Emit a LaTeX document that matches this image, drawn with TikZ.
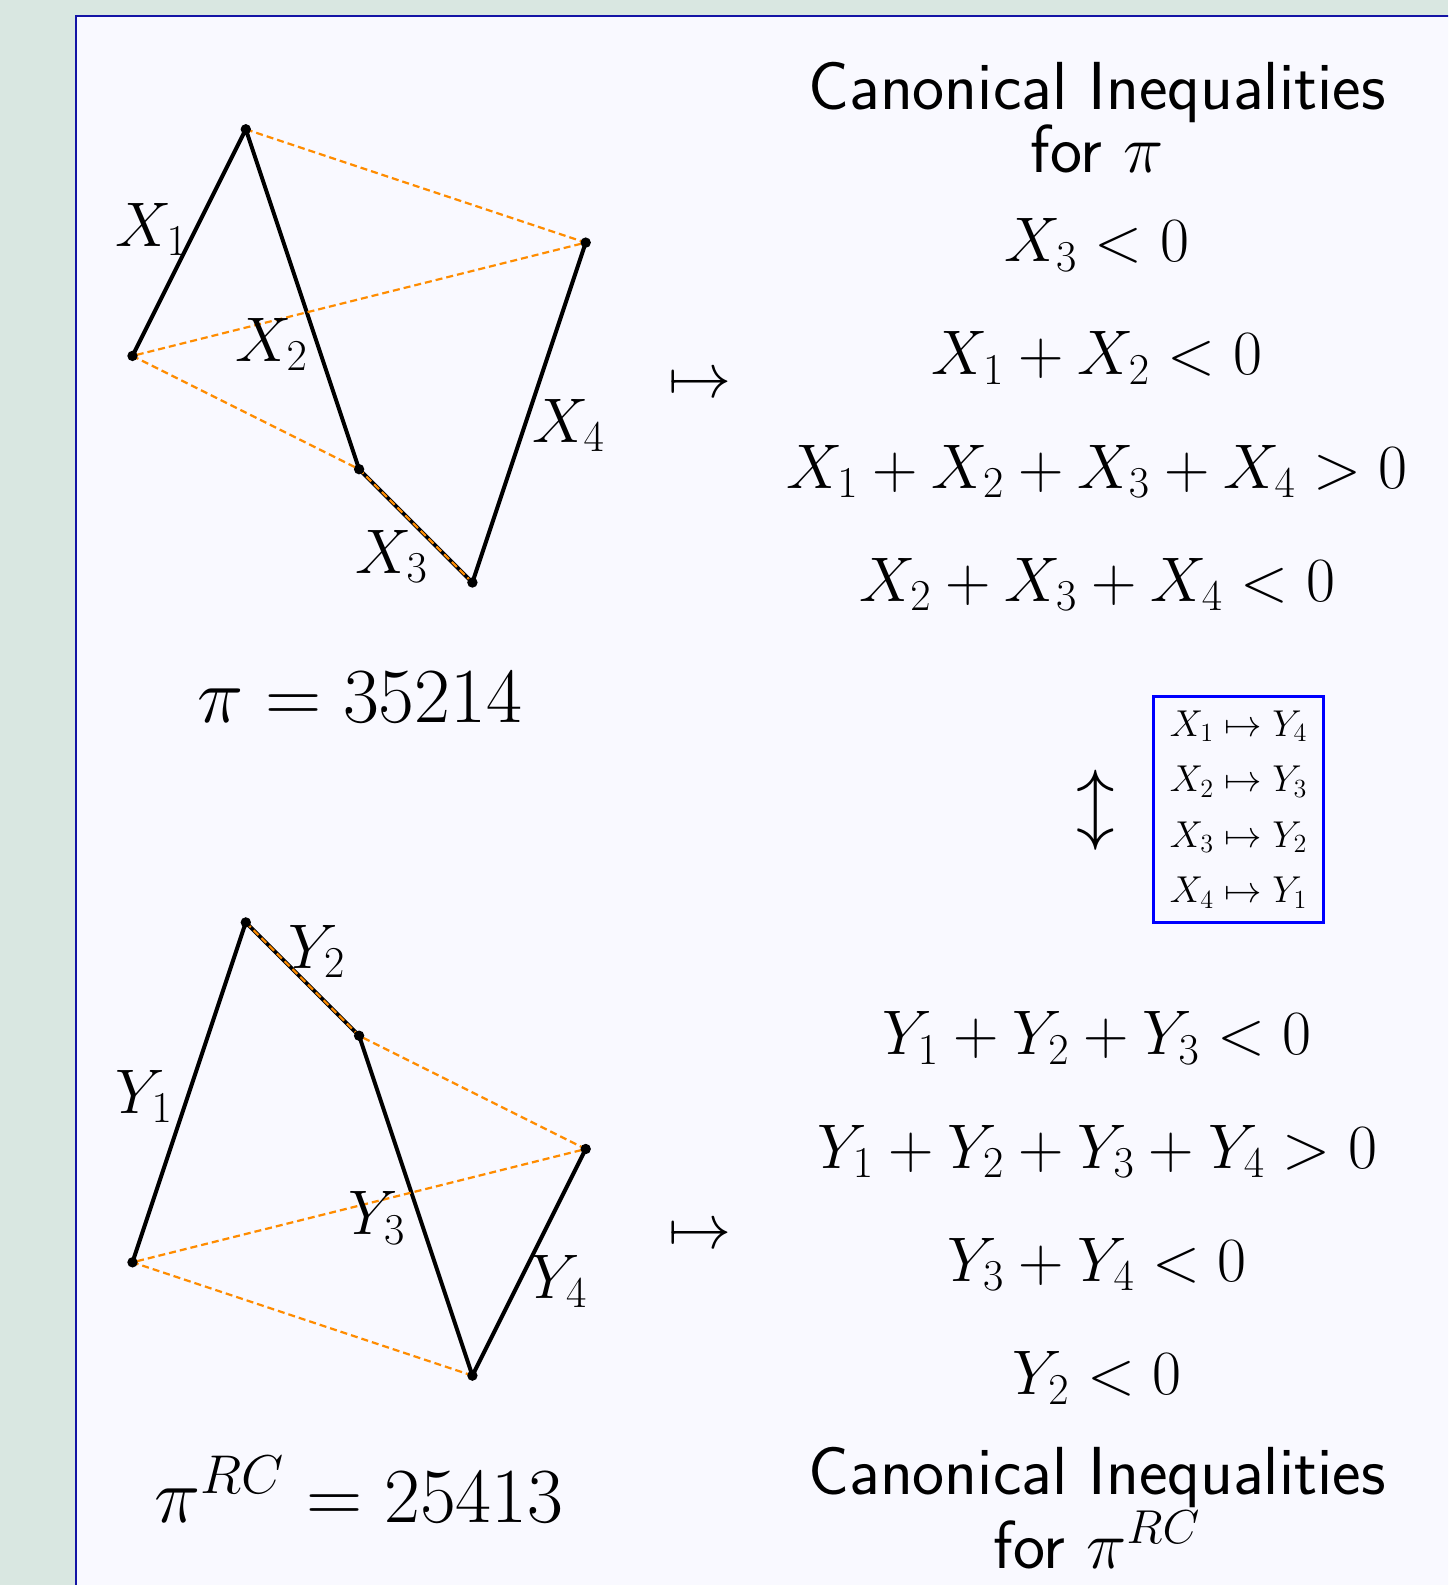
\RequirePackage{fix-cm}
\documentclass[tikz,border=0pt]{standalone}
\definecolor{outerbg}{RGB}{217,231,225}
\definecolor{innerbg}{RGB}{249,249,255}
\definecolor{framecol}{RGB}{20,20,165}
\definecolor{dashorange}{RGB}{255,140,0}
\begin{document}
\begin{tikzpicture}[x=0.5pt,y=-0.5pt,
  edge/.style={line width=2pt,black,line cap=round},
  dashedge/.style={line width=1.1pt,dashorange,dash pattern=on 3.5pt off 2pt},
  vdot/.style={fill=black},
  mlab/.style={inner sep=0pt,anchor=base west,font=\fontsize{31.5}{36}\selectfont},
  ineq/.style={inner sep=0pt,anchor=base,font=\fontsize{31.5}{36}\selectfont},
  canon/.style={inner sep=0pt,anchor=base,font=\sffamily\fontsize{34}{40}\selectfont},
  perm/.style={inner sep=0pt,anchor=base,font=\fontsize{39}{46}\selectfont},
  sym/.style={inner sep=0pt,font=\fontsize{31.5}{36}\selectfont}]
\useasboundingbox (0,0) rectangle (1448,1585);
\clip (0,0) rectangle (1448,1585);
\fill[outerbg] (0,0) rectangle (1448,1585);
\filldraw[fill=innerbg,draw=framecol,line width=1.15pt] (76.2,16.2) rectangle (1520,1660);

% top polygon
\coordinate (A) at (132.5,355.9);
\coordinate (B) at (245.8,129.3);
\coordinate (C) at (359.1,469.2);
\coordinate (D) at (472.4,582.5);
\coordinate (E) at (585.7,242.6);
% bottom polygon
\coordinate (A2) at (132.5,1262.3);
\coordinate (B2) at (245.8,922.4);
\coordinate (C2) at (359.1,1035.7);
\coordinate (D2) at (472.4,1375.6);
\coordinate (E2) at (585.7,1149.0);

\draw[edge] (A) -- (B) -- (C) -- (D) -- (E);
\draw[edge] (A2) -- (B2) -- (C2) -- (D2) -- (E2);
\draw[dashedge] (B) -- (E) -- (A) -- (C) -- (D);
\draw[dashedge] (B2) -- (C2) -- (E2) -- (A2) -- (D2);
\foreach \p in {A,B,C,D,E,A2,B2,C2,D2,E2} \fill[vdot] (\p) circle (2.6pt);

% edge labels
\node[mlab] (lX1) at (115,246.5) {$X_1$};
\node[mlab] (lX2) at (235,361) {$X_2$};
\node[mlab] (lX3) at (355,573.3) {$X_3$};
\node[mlab] (lX4) at (532,442) {$X_4$};
\node[mlab] (lY1) at (115.5,1113.3) {$Y_1$};
\node[mlab] (lY2) at (288,968.5) {$Y_2$};
\node[mlab] (lY3) at (348,1234.7) {$Y_3$};
\node[mlab] (lY4) at (530,1298.4) {$Y_4$};

% permutations
\node[perm] (p1) at (360,722) {$\pi = 35214$};
\node[perm] (p2) at (359,1522) {$\pi^{RC} = 25413$};

% maps-to symbols
\node[sym] (m1) at (700,386) {$\mapsto$};
\node[sym] (m2) at (700,1237) {$\mapsto$};

% right column
\node[canon] (c1) at (1097,109.2) {Canonical Inequalities};
\node[canon] (c1b) at (1097,172) {for $\pi$};
\node[ineq] (i1) at (1097,261.6) {$X_3 < 0$};
\node[ineq] (i2) at (1097,374.9) {$X_1 + X_2 < 0$};
\node[ineq] (i3) at (1097,488.2) {$X_1 + X_2 + X_3 + X_4 > 0$};
\node[ineq] (i4) at (1097,601.5) {$X_2 + X_3 + X_4 < 0$};

\node[inner sep=0pt,font=\fontsize{38.5}{42}\selectfont] (ud) at (1096,810) {$\updownarrow$};
\node[draw=blue,line width=1.5pt,minimum width=84.85pt,minimum height=112.7pt,inner sep=0pt,align=center,font=\fontsize{18.7}{27.8}\selectfont] (map) at (1238.7,809.5)
  {$X_1 \mapsto Y_4$\\ $X_2 \mapsto Y_3$\\ $X_3 \mapsto Y_2$\\ $X_4 \mapsto Y_1$};

\node[ineq] (j1) at (1097,1054.7) {$Y_1 + Y_2 + Y_3 < 0$};
\node[ineq] (j2) at (1097,1168.0) {$Y_1 + Y_2 + Y_3 + Y_4 > 0$};
\node[ineq] (j3) at (1097,1281.3) {$Y_3 + Y_4 < 0$};
\node[ineq] (j4) at (1097,1394.6) {$Y_2 < 0$};
\node[canon] (c2) at (1097,1494) {Canonical Inequalities};
\node[canon] (c2b) at (1097,1568) {for $\pi^{RC}$};
\end{tikzpicture}
\end{document}
